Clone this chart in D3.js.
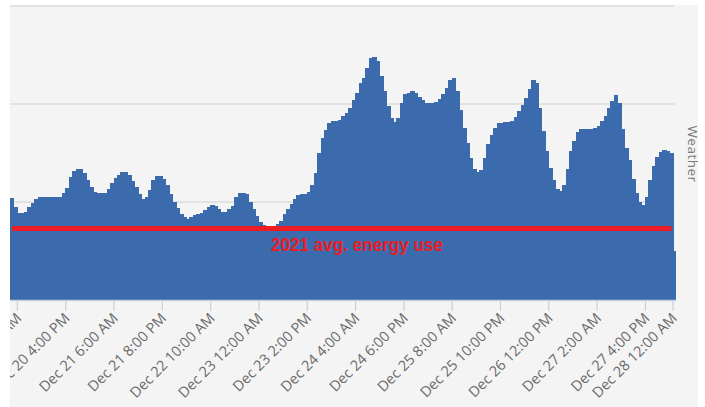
<!DOCTYPE html>
<html>
<head>
<meta charset="utf-8">
<script src="https://cdn.jsdelivr.net/npm/d3@7"></script>
<style>
  html, body { margin: 0; padding: 0; background: #fff; }
  svg { display: block; font-family: "Open Sans", sans-serif; }
</style>
</head>
<body>
<script>
/**********************
 ***    Constants   ***
 **********************/
const SCREEN = { width: 705, height: 407 };
const PLOT = { left: 10, right: 676, top: 6, bottom: 300 };

// hourly energy use, starting Dec 20 12:00 AM
const START_HOUR = new Date(2022, 11, 20, 0);
const energyUse = [
  1.04, 0.95, 0.89, 0.89, 0.90, 0.95, 0.99, 1.03, 1.05, 1.05,
  1.05, 1.05, 1.05, 1.05, 1.05, 1.09, 1.14, 1.26, 1.32, 1.34,
  1.34, 1.30, 1.22, 1.15, 1.10, 1.09, 1.09, 1.09, 1.13, 1.19,
  1.24, 1.28, 1.31, 1.31, 1.28, 1.21, 1.15, 1.08, 1.03, 1.05,
  1.12, 1.22, 1.27, 1.27, 1.23, 1.17, 1.08, 1.00, 0.94, 0.88,
  0.85, 0.83, 0.85, 0.87, 0.88, 0.89, 0.92, 0.95, 0.97, 0.96,
  0.93, 0.90, 0.90, 0.93, 0.96, 1.05, 1.09, 1.09, 1.08, 1.00,
  0.93, 0.86, 0.80, 0.77, 0.76, 0.76, 0.76, 0.78, 0.81, 0.88,
  0.93, 0.98, 1.03, 1.07, 1.08, 1.08, 1.10, 1.17, 1.30, 1.50,
  1.65, 1.73, 1.81, 1.83, 1.83, 1.84, 1.88, 1.91, 1.96, 2.04,
  2.11, 2.21, 2.27, 2.37, 2.47, 2.48, 2.44, 2.29, 2.13, 1.98,
  1.86, 1.82, 1.86, 2.01, 2.10, 2.11, 2.13, 2.11, 2.07, 2.04,
  2.01, 2.01, 2.01, 2.02, 2.05, 2.10, 2.16, 2.25, 2.27, 2.13,
  1.94, 1.76, 1.60, 1.45, 1.34, 1.31, 1.33, 1.45, 1.59, 1.68,
  1.76, 1.81, 1.81, 1.82, 1.82, 1.83, 1.87, 1.93, 1.99, 2.06,
  2.15, 2.24, 2.21, 1.96, 1.72, 1.52, 1.35, 1.22, 1.13, 1.11,
  1.17, 1.34, 1.52, 1.62, 1.71, 1.74, 1.74, 1.74, 1.74, 1.76,
  1.78, 1.83, 1.88, 1.96, 2.03, 2.09, 2.01, 1.75, 1.55, 1.43,
  1.23, 1.09, 1.00, 0.97, 1.05, 1.22, 1.37, 1.46, 1.51, 1.53,
  1.52, 1.50, 0.50
];

const avgEnergyUse = 0.73;
const avgLabel = "2021 avg. energy use";
const yTicks = [1, 2, 3];

const tickLabels = [
  "Dec 20 2:00 AM", "Dec 20 4:00 PM", "Dec 21 6:00 AM", "Dec 21 8:00 PM",
  "Dec 22 10:00 AM", "Dec 23 12:00 AM", "Dec 23 2:00 PM", "Dec 24 4:00 AM",
  "Dec 24 6:00 PM", "Dec 25 8:00 AM", "Dec 25 10:00 PM", "Dec 26 12:00 PM",
  "Dec 27 2:00 AM", "Dec 27 4:00 PM", "Dec 28 12:00 AM"
];
const rightAxisTitle = "Weather";

const barColor = "#3b6bad";
const avgColor = "#ed1c24";

/**********************
 *      Scales        *
 **********************/
const hours = d3.timeHour.range(START_HOUR, d3.timeHour.offset(START_HOUR, energyUse.length));
const endHour = d3.timeHour.offset(START_HOUR, energyUse.length);

const x = d3.scaleTime()
  .domain([START_HOUR, endHour])
  .range([PLOT.left, PLOT.right]);

const y = d3.scaleLinear()
  .domain([0, 3])
  .range([PLOT.bottom, PLOT.top]);

const parseTick = d3.timeParse("%b %d %I:%M %p %Y");
const tickDates = tickLabels.map(s => parseTick(s + " 2022"));
const labelByTime = new Map(tickDates.map((d, i) => [+d, tickLabels[i]]));

/**********************
 *       SVG          *
 **********************/
const svg = d3.select("body").append("svg")
  .attr("width", SCREEN.width)
  .attr("height", SCREEN.height);

svg.append("defs").append("clipPath")
  .attr("id", "chartClip")
  .append("rect")
  .attr("x", 10).attr("y", 5)
  .attr("width", 688).attr("height", 402);

const chart = svg.append("g").attr("clip-path", "url(#chartClip)");

chart.append("rect")
  .attr("x", 10).attr("y", 5)
  .attr("width", 688).attr("height", 402)
  .attr("fill", "#f4f4f4");

// gridlines
chart.append("g")
  .selectAll("line")
  .data(yTicks)
  .join("line")
  .attr("x1", PLOT.left)
  .attr("x2", x(tickDates[tickDates.length - 1]) + 2)
  .attr("y1", d => y(d))
  .attr("y2", d => y(d))
  .attr("stroke", "#dcdcdc")
  .attr("stroke-width", 1.5);

// bars
chart.append("g")
  .attr("shape-rendering", "crispEdges")
  .selectAll("rect")
  .data(energyUse)
  .join("rect")
  .attr("x", (d, i) => x(hours[i]))
  .attr("width", (d, i) => x(d3.timeHour.offset(hours[i], 1)) - x(hours[i]) + (i < energyUse.length - 1 ? 1 : 0))
  .attr("y", d => y(d))
  .attr("height", d => y(0) - y(d))
  .attr("fill", barColor);

// x axis
const xAxis = d3.axisBottom(x)
  .tickValues(tickDates)
  .tickSize(11)
  .tickFormat(d => labelByTime.get(+d));

const axisG = chart.append("g")
  .attr("transform", `translate(0,${PLOT.bottom})`)
  .call(xAxis);

axisG.select(".domain")
  .attr("d", `M${PLOT.left},0.5H${PLOT.right}`)
  .attr("stroke", "#c3d0de")
  .attr("stroke-width", 1.5);
axisG.selectAll(".tick line")
  .attr("stroke", "#c3d0de")
  .attr("stroke-width", 1.2);
axisG.selectAll(".tick text")
  .attr("fill", "#6a6a6a")
  .attr("font-size", "14.5px")
  .attr("font-family", "'Open Sans', sans-serif")
  .attr("text-anchor", "end")
  .attr("y", 0)
  .attr("dy", 0)
  .attr("transform", "translate(5,19) rotate(-45)");

// average line
chart.append("line")
  .attr("x1", x(hours[0]) + 2)
  .attr("x2", x(hours[hours.length - 1]) - 1)
  .attr("y1", y(avgEnergyUse))
  .attr("y2", y(avgEnergyUse))
  .attr("stroke", avgColor)
  .attr("stroke-width", 5);

chart.append("text")
  .attr("x", 271)
  .attr("y", y(avgEnergyUse) + 22.5)
  .attr("fill", avgColor)
  .attr("font-family", "'Liberation Sans', Arial, sans-serif")
  .attr("font-weight", "bold")
  .attr("font-size", "19px")
  .attr("textLength", 172)
  .attr("lengthAdjust", "spacingAndGlyphs")
  .text(avgLabel);

// right axis title
chart.append("text")
  .attr("transform", `translate(688,154) rotate(90)`)
  .attr("text-anchor", "middle")
  .attr("fill", "#7a7a7a")
  .attr("font-size", "13.5px")
  .attr("letter-spacing", "0.5px")
  .text(rightAxisTitle);
</script>
</body>
</html>
